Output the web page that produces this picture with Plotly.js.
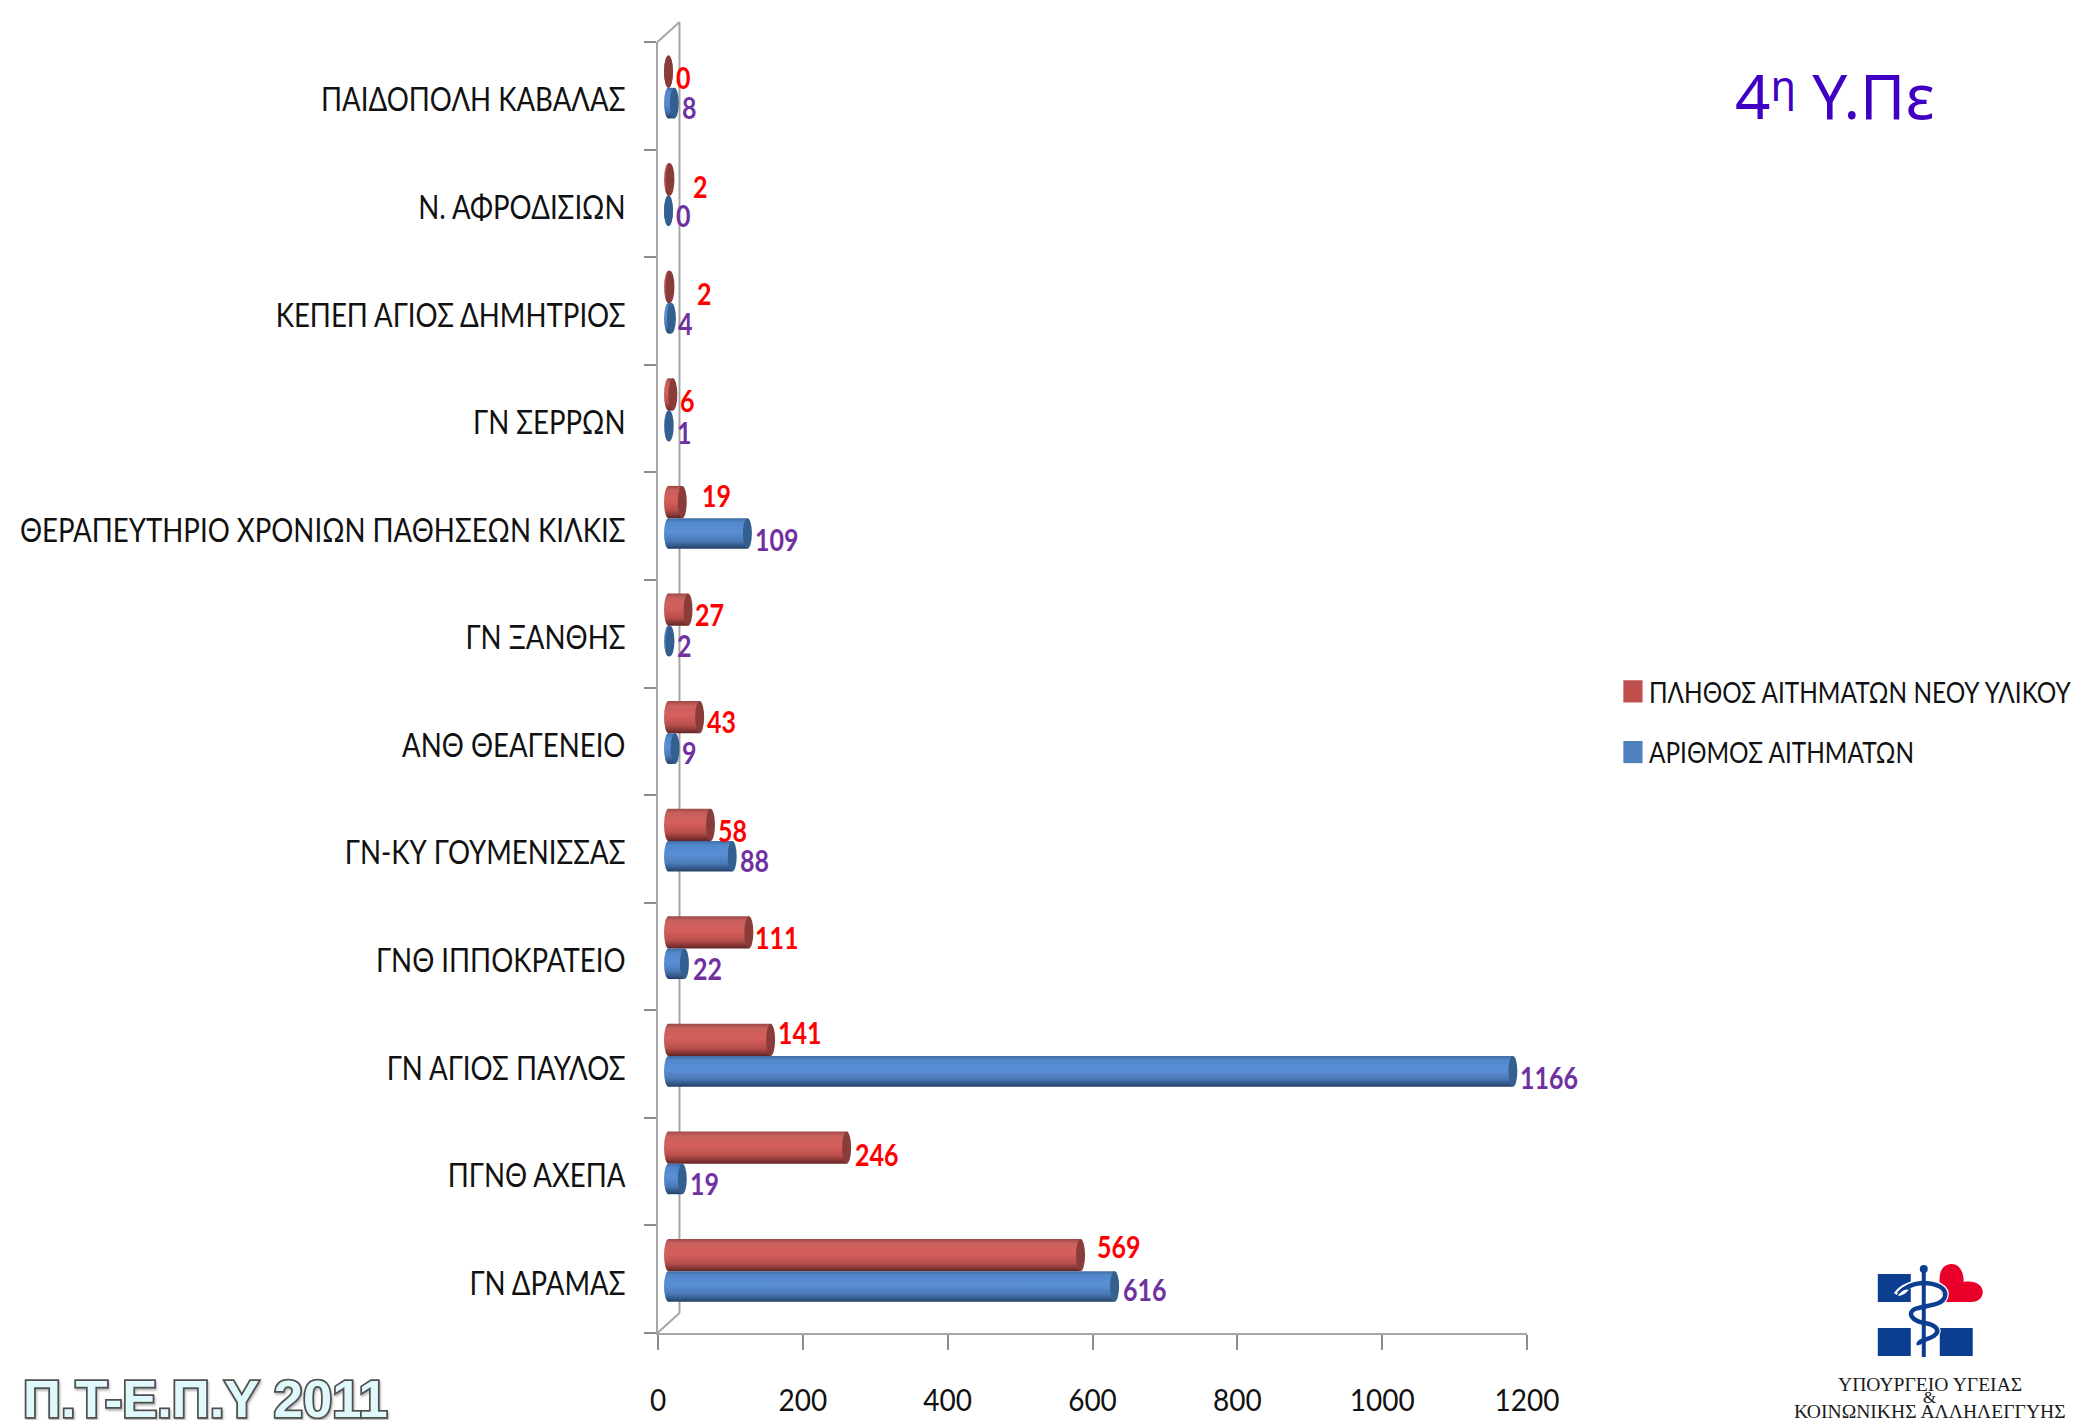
<!DOCTYPE html>
<html><head><meta charset="utf-8">
<script src="https://cdn.plot.ly/plotly-3.0.1.min.js"></script>
<style>html,body{margin:0;padding:0;background:#fff}</style></head>
<body><div id="chart" style="width:2075px;height:1420px"></div>
<script>
// bottom-to-top, as the axis runs
const categories = ["ΓΝ ΔΡΑΜΑΣ","ΠΓΝΘ ΑΧΕΠΑ","ΓΝ ΑΓΙΟΣ ΠΑΥΛΟΣ","ΓΝΘ ΙΠΠΟΚΡΑΤΕΙΟ","ΓΝ-ΚΥ ΓΟΥΜΕΝΙΣΣΑΣ","ΑΝΘ ΘΕΑΓΕΝΕΙΟ","ΓΝ ΞΑΝΘΗΣ","ΘΕΡΑΠΕΥΤΗΡΙΟ ΧΡΟΝΙΩΝ ΠΑΘΗΣΕΩΝ ΚΙΛΚΙΣ","ΓΝ ΣΕΡΡΩΝ","ΚΕΠΕΠ ΑΓΙΟΣ ΔΗΜΗΤΡΙΟΣ","Ν. ΑΦΡΟΔΙΣΙΩΝ","ΠΑΙΔΟΠΟΛΗ ΚΑΒΑΛΑΣ"];
const newMaterial = [569,246,141,111,58,43,27,19,6,2,2,0];
const requests    = [616,19,1166,22,88,9,2,109,1,4,0,8];
const redName = "ΠΛΗΘΟΣ ΑΙΤΗΜΑΤΩΝ ΝΕΟΥ ΥΛΙΚΟΥ";
const blueName = "ΑΡΙΘΜΟΣ ΑΙΤΗΜΑΤΩΝ";
const xTicks = [0,200,400,600,800,1000,1200];

// label nudges from the bar end, in pixels (right, up)
const redDx  = [38.5,30,29,28.5,22,22,21,34,15,34.5,30.5,15];
const redDy  = [32.4,16.8,31.2,18.6,18,19.4,18.8,30.2,17.6,17,16.4,17.8];
const blueDx = [30.5,22,36.5,23,22,14.5,14.5,30,15,14,15,15];
const blueDy = [-11,-12,-14,-13,-12,-12,-12,-14,-14,-13,-13,-12];

const W=2075,H=1420,L=657.5,R=1527,T=42,B=1333;
const FONT='Lato, "Noto Sans", sans-serif';
const BASE=14.5, CAP=6.2;               // 3-D floor offset and cylinder cap half-width, value units
const RED=[0.074,0.3], BLUE=[-0.21,0.284];
const RED_C='#c0504d', BLUE_C='#4f81bd';
const LEFT_R='#cd5c59', LEFT_B='#5a8cd0', END_R='#8a3c3a', END_B='#33608f';

const fx=x=>(x-L)/(R-L), fy=y=>(B-y)/(B-T);
const pth=s=>s.replace(/(-?[\d.]+),(-?[\d.]+)/g,(m,a,b)=>fx(+a)+','+fy(+b));
const line=(x0,y0,x1,y1,c='#a6a6a6',w=2,layer='below')=>({type:'line',xref:'paper',yref:'paper',x0:fx(x0),y0:fy(y0),x1:fx(x1),y1:fy(y1),line:{color:c,width:w},layer});
const rect=(x0,y0,x1,y1,c)=>({type:'rect',xref:'paper',yref:'paper',x0:fx(x0),y0:fy(y0),x1:fx(x1),y1:fy(y1),fillcolor:c,line:{width:0}});
const path=(s,fill,lc,w)=>({type:'path',xref:'paper',yref:'paper',path:pth(s),fillcolor:fill||'rgba(0,0,0,0)',line:{color:lc||'rgba(0,0,0,0)',width:w||0}});

const shapes=[];
// walls of the 3-D box
shapes.push(line(679,22,679,1313), line(657,42,679,22), line(657,1333,679,1313));
// cylinder ends
function caps(vals,cfg,left,end){
  vals.forEach((v,i)=>{
    const y0=i+cfg[0], y1=i+cfg[0]+cfg[1];
    shapes.push({type:'circle',xref:'x',yref:'y',x0:BASE-CAP,x1:BASE+CAP,y0,y1,fillcolor:left,line:{width:0},layer:'below'});
    shapes.push({type:'circle',xref:'x',yref:'y',x0:BASE+v-CAP,x1:BASE+v+CAP,y0,y1,fillcolor:end,line:{width:0},layer:'above'});
  });
}
caps(requests,BLUE,LEFT_B,END_B);
caps(newMaterial,RED,LEFT_R,END_R);
// ministry emblem
const NAVY='#0b3d91';
shapes.push(rect(1878,1274,1911,1302,NAVY),rect(1878,1328,1911,1356,NAVY),rect(1940,1328,1973,1356,NAVY));
shapes.push(path('M1944,1302 C1941,1292 1939,1284 1940,1276 C1941,1267 1947,1264 1952,1264 C1959,1264 1964,1271 1964,1282 C1975,1280 1983,1285 1983,1292 C1983,1299 1977,1302 1971,1302 Z','#e8002a'));
shapes.push(path('M1897,1295 C1902,1288 1910,1284 1922,1283 C1937,1283 1948,1288 1945,1297 C1942,1306 1926,1305 1915,1309 C1907,1313 1912,1321 1925,1323 C1937,1325 1941,1331 1934,1336 C1928,1340 1918,1340 1919,1345',null,'#ffffff',7));
shapes.push(path('M1924,1270 L1924,1357',null,NAVY,4));
shapes.push(path('M1899,1294 C1904,1288 1910,1284 1922,1283 C1937,1283 1948,1288 1945,1297 C1942,1306 1926,1305 1915,1309 C1907,1313 1912,1321 1925,1323 C1937,1325 1941,1331 1934,1336 C1928,1340 1918,1340 1919,1345',null,NAVY,4.5));
shapes.push({type:'circle',xref:'paper',yref:'paper',x0:fx(1920),x1:fx(1928),y0:fy(1273),y1:fy(1265),fillcolor:NAVY,line:{width:0}});
shapes.push(path('M1897,1297 C1899,1291 1905,1288 1910,1289 C1909,1293 1903,1297 1897,1297 Z','#ffffff',NAVY,1.5));

const annotations=[];
function labels(vals,dx,dy,color){
  vals.forEach((v,i)=>annotations.push({x:BASE+v,y:categories[i],xref:'x',yref:'y',text:String(v),showarrow:false,
    xanchor:'center',yanchor:'middle',xshift:dx[i],yshift:dy[i],font:{family:FONT,size:25,color,weight:700}}));
}
labels(newMaterial,redDx,redDy,'#ff0000');
labels(requests,blueDx,blueDy,'#7030a0');
const free=(px,py,text,font,anchor='center')=>({xref:'paper',yref:'paper',x:fx(px),y:fy(py),text,showarrow:false,xanchor:anchor,yanchor:'middle',font});
annotations.push(free(1835,92,'4<sup><span style="font-size:42px">η</span></sup> Υ.Πε',{family:'"Noto Sans", "Open Sans", sans-serif',size:62,color:'#3f00c4'}));
annotations.push(free(20,1398,'Π.Τ-Ε.Π.Υ 2011',{family:'"Liberation Sans", Arial, sans-serif',size:52.5,color:'#dff8fc',weight:700},'left'));
const sf={family:'"Liberation Serif", serif',size:19.6,color:'#1a1a1a'};
annotations.push(free(1930,1384,'ΥΠΟΥΡΓΕΙΟ ΥΓΕΙΑΣ',sf),free(1930,1397,'&',{...sf,size:17}),free(1930,1411,'ΚΟΙΝΩΝΙΚΗΣ ΑΛΛΗΛΕΓΓΥΗΣ',sf));

const bar=(name,x,cfg,color,group)=>({type:'bar',orientation:'h',name,y:categories,x,base:BASE,offset:cfg[0],width:cfg[1],
  marker:{color,line:{width:0}},legendgroup:group,hoverinfo:'x+y'});
const traces=[bar(redName,newMaterial,RED,RED_C,'a'),bar(blueName,requests,BLUE,BLUE_C,'b')];

const layout={width:W,height:H,paper_bgcolor:'#fff',plot_bgcolor:'rgba(0,0,0,0)',
  margin:{l:L,r:W-R,t:T,b:H-B,pad:0,autoexpand:false},barmode:'overlay',
  font:{family:FONT,color:'#111'},
  xaxis:{range:[0,1200],tickmode:'array',tickvals:xTicks,ticktext:xTicks.map(String),showgrid:false,zeroline:false,
    showline:true,linecolor:'#a6a6a6',linewidth:2,ticks:'outside',ticklen:15,tickcolor:'#8c8c8c',tickwidth:2,
    tickfont:{family:FONT,size:28,color:'#111'},ticklabelstandoff:27},
  yaxis:{type:'category',categoryorder:'array',categoryarray:categories,range:[-0.5,11.5],tickson:'boundaries',showgrid:false,zeroline:false,
    showline:true,linecolor:'#a6a6a6',linewidth:2,ticks:'outside',ticklen:12,tickcolor:'#8c8c8c',tickwidth:2,
    tickfont:{family:FONT,size:27.6,color:'#111'},ticklabelstandoff:25},
  legend:{x:fx(1609),y:fy(669),xanchor:'left',yanchor:'top',traceorder:'grouped',tracegroupgap:26,bgcolor:'rgba(0,0,0,0)',
    font:{family:FONT,size:24.4,color:'#111'},itemclick:false,itemdoubleclick:false},
  shapes,annotations};

Plotly.newPlot('chart',traces,layout,{displayModeBar:false,responsive:false}).then(gd=>{
  const svg=gd.querySelector('svg.main-svg');
  const NS='http://www.w3.org/2000/svg';
  const defs=svg.querySelector('defs')||svg.insertBefore(document.createElementNS(NS,'defs'),svg.firstChild);
  const grad=(id,stops)=>{const g=document.createElementNS(NS,'linearGradient');g.id=id;
    g.setAttribute('x1','0');g.setAttribute('y1','0');g.setAttribute('x2','0');g.setAttribute('y2','1');
    stops.forEach(([o,c])=>{const s=document.createElementNS(NS,'stop');s.setAttribute('offset',o);s.setAttribute('stop-color',c);g.appendChild(s);});
    defs.appendChild(g);};
  grad('cylR',[[0,'#9c4a48'],[.14,'#c9605d'],[.45,'#d65f5b'],[.75,'#b84f4c'],[.92,'#7f3331'],[1,'#5f2523']]);
  grad('cylB',[[0,'#3f6ea6'],[.14,'#5288cc'],[.45,'#5a8fd6'],[.75,'#4a78b5'],[.92,'#2f5382'],[1,'#233f66']]);
  const tr=gd.querySelectorAll('.barlayer .trace');
  tr[0].querySelectorAll('path').forEach(p=>p.style.fill='url(#cylR)');
  tr[1].querySelectorAll('path').forEach(p=>p.style.fill='url(#cylB)');
  const hex=c=>'rgb('+[1,3,5].map(i=>parseInt(c.substr(i,2),16)).join(', ')+')';
  gd.querySelectorAll('.shapelayer path').forEach(p=>{
    if(p.style.fill===hex(LEFT_R))p.style.fill='url(#cylR)';
    if(p.style.fill===hex(LEFT_B))p.style.fill='url(#cylB)';
  });
  // legend swatches: larger squares
  gd.querySelectorAll('.legend .traces .legendpoints path').forEach(p=>{
    p.setAttribute('transform','translate(24,0) scale(1.6,1.85)');
  });
  // the reference's condensed face is taller than Lato at the same width
  const tall=(t,s,dy)=>{const b=t.getBBox(),cx=b.x+b.width/2,cy=b.y+b.height/2,old=t.getAttribute('transform')||'';
    t.setAttribute('transform',`translate(0,${dy||0}) ${old} translate(${cx},${cy}) scale(1,${s}) translate(${-cx},${-cy})`);};
  gd.querySelectorAll('.ytick text').forEach(t=>tall(t,1.18,4));
  gd.querySelectorAll('.xtick text').forEach(t=>tall(t,1.08,0));
  gd.querySelectorAll('.legend .legendtext').forEach(t=>tall(t,1.18,0));
  gd.querySelectorAll('.annotation-text').forEach(t=>{
    if(/^\d+$/.test(t.textContent))tall(t,1.18,-1);
    if(t.textContent.startsWith('Π.Τ')){
      t.style.stroke='#4f4f4f';t.style.strokeWidth='3.5px';t.style.paintOrder='stroke';
      t.style.filter='drop-shadow(1px 2px 1px rgba(0,0,0,.3))';
    }
    if(t.textContent.startsWith('4')){   // lower the superscript, and return to the baseline by the same step
      t.querySelectorAll('tspan[dy]').forEach(s=>{
        s.setAttribute('dy',s.getAttribute('dy').startsWith('-')?'-18px':'18px');
      });
    }
  });
});
</script></body></html>
